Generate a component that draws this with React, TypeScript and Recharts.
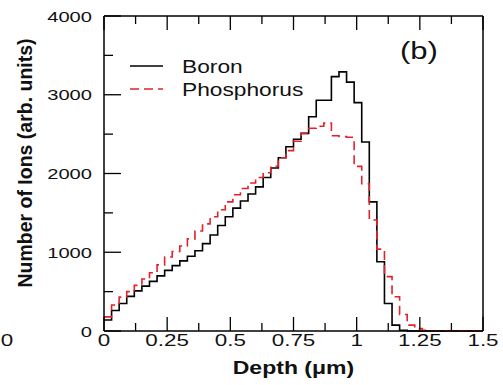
import { Line, LineChart, XAxis, YAxis } from "recharts";

// bin left edges (μm), last entry closes the final bin
const depths = [
  0, 0.03, 0.06, 0.09, 0.12, 0.15, 0.18, 0.21, 0.24, 0.27,
  0.3, 0.33, 0.36, 0.39, 0.42, 0.45, 0.48, 0.51, 0.54, 0.57,
  0.6, 0.63, 0.66, 0.69, 0.72, 0.75, 0.78, 0.81, 0.84, 0.87,
  0.9, 0.93, 0.96, 0.99, 1.02, 1.05, 1.08, 1.11, 1.14, 1.17,
  1.2, 1.23, 1.26, 1.29, 1.32, 1.35, 1.38, 1.41, 1.44, 1.47, 1.5,
];

const boron = [
  140, 260, 350, 440, 510, 570, 630, 700, 770, 830,
  890, 950, 1020, 1110, 1220, 1340, 1450, 1560, 1650, 1740,
  1830, 1950, 2070, 2200, 2340, 2435, 2510, 2720, 2930, 2930,
  3230, 3290, 3160, 2900, 2400, 1640, 880, 350, 75, 10,
  0, 0, 0, 0, 0, 0, 0, 0, 0, 0,
];

const phosphorus = [
  180, 330, 430, 500, 580, 660, 740, 840, 940, 1010,
  1080, 1170, 1270, 1360, 1450, 1540, 1640, 1730, 1810, 1880,
  1950, 2010, 2090, 2200, 2290, 2410, 2510, 2575, 2600, 2640,
  2480, 2470, 2460, 2090, 1870, 1410, 1040, 690, 435, 210,
  75, 30, 10, 4, 4, 4, 4, 4, 4, 4,
];

const xTicks = [0, 0.125, 0.25, 0.375, 0.5, 0.625, 0.75, 0.875, 1, 1.125, 1.25, 1.375, 1.5];
const xMajor = [0, 0.25, 0.5, 0.75, 1, 1.25, 1.5];
const xLabels = ["0", "0.25", "0.5", "0.75", "1", "1.25", "1.5"];
const yTicks = [0, 500, 1000, 1500, 2000, 2500, 3000, 3500, 4000];
const yMajor = [0, 1000, 2000, 3000, 4000];
const yLabels = ["0", "1000", "2000", "3000", "4000"];

const data = depths.map((d, i) => ({
  depth: d,
  boron: boron[Math.min(i, boron.length - 1)],
  phosphorus: phosphorus[Math.min(i, phosphorus.length - 1)],
}));

const FONT = "'Liberation Sans', Arial, Helvetica, sans-serif";
const RED = "#e3222b";

function BottomTick({ x, y, payload }: any) {
  const idx = xMajor.indexOf(payload.value);
  const major = idx >= 0;
  return (
    <g>
      <line x1={x} x2={x} y1={y} y2={y - (major ? 14 : 8)} stroke="#000" strokeWidth={1.3} />
      {major && (
        <text
          transform={`translate(${x},${y + 14.5}) scale(1.4,1)`}
          textAnchor="middle"
          fontSize={16}
          fontFamily={FONT}
          fill="#111"
        >
          {xLabels[idx]}
        </text>
      )}
    </g>
  );
}

function TopTick({ x, y, payload }: any) {
  const major = xMajor.includes(payload.value);
  return <line x1={x} x2={x} y1={y} y2={y + (major ? 14 : 8)} stroke="#000" strokeWidth={1.3} />;
}

function LeftTick({ x, y, payload }: any) {
  const idx = yMajor.indexOf(payload.value);
  const major = idx >= 0;
  return (
    <g>
      <line x1={x} x2={x + (major ? 17 : 9)} y1={y} y2={y} stroke="#000" strokeWidth={1.3} />
      {major && (
        <text
          transform={`translate(${x - 12},${y + 5.5}) scale(1.3,1)`}
          textAnchor="end"
          fontSize={15.5}
          fontFamily={FONT}
          fill="#111"
        >
          {yLabels[idx]}
        </text>
      )}
    </g>
  );
}

function RightTick({ x, y, payload }: any) {
  const major = yMajor.includes(payload.value);
  return <line x1={x} x2={x - (major ? 16 : 10)} y1={y} y2={y} stroke="#000" strokeWidth={1.3} />;
}

function LegendBox() {
  return (
    <svg width={200} height={50} style={{ position: "absolute", left: 130, top: 56, overflow: "visible" }}>
      <line x1={0} x2={33} y1={10} y2={10} stroke="#000" strokeWidth={1.6} />
      <text transform="translate(52,16.7) scale(1.3,1)" fontSize={17.5} fontFamily={FONT} fill="#111">
        Boron
      </text>
      <line x1={0} x2={33} y1={33} y2={33} stroke={RED} strokeWidth={1.6} strokeDasharray="9 5" />
      <text transform="translate(52,40) scale(1.3,1)" fontSize={17.5} fontFamily={FONT} fill="#111">
        Phosphorus
      </text>
    </svg>
  );
}

export default function App() {
  return (
    <div style={{ position: "absolute", left: 0, top: 0, width: 503, height: 385, background: "#fff" }}>
      <LineChart width={503} height={385} data={data} margin={{ top: 0, right: 0, bottom: 0, left: 0 }}>
        <XAxis
          dataKey="depth"
          type="number"
          domain={[0, 1.5]}
          ticks={xTicks}
          interval={0}
          height={54}
          tickSize={0}
          tickMargin={0}
          tickLine={false}
          axisLine={{ stroke: "#000", strokeWidth: 1.5 }}
          tick={<BottomTick />}
          label={{
            content: ({ viewBox }: any) => (
              <text
                transform={`translate(${viewBox.x + viewBox.width / 2},${viewBox.y + 43}) scale(1.28,1)`}
                textAnchor="middle"
                fontSize={18}
                fontWeight="bold"
                fontFamily={FONT}
                fill="#111"
              >
                Depth (μm)
              </text>
            ),
          }}
        />
        <XAxis
          xAxisId="top"
          orientation="top"
          dataKey="depth"
          type="number"
          domain={[0, 1.5]}
          ticks={xTicks}
          interval={0}
          height={16}
          tickSize={0}
          tickMargin={0}
          tickLine={false}
          axisLine={{ stroke: "#000", strokeWidth: 1.5 }}
          tick={<TopTick />}
        />
        <YAxis
          type="number"
          domain={[0, 4000]}
          ticks={yTicks}
          interval={0}
          width={104}
          tickSize={0}
          tickMargin={0}
          tickLine={false}
          axisLine={{ stroke: "#000", strokeWidth: 1.5 }}
          tick={<LeftTick />}
          label={{
            content: () => (
              <text
                transform="translate(32,163) rotate(-90)"
                textAnchor="middle"
                fontSize={19.5}
                fontWeight="bold"
                fontFamily={FONT}
                fill="#111"
              >
                Number of Ions (arb. units)
              </text>
            ),
          }}
        />
        <YAxis
          yAxisId="right"
          orientation="right"
          type="number"
          domain={[0, 4000]}
          ticks={yTicks}
          interval={0}
          width={20}
          tickSize={0}
          tickMargin={0}
          tickLine={false}
          axisLine={{ stroke: "#000", strokeWidth: 1.5 }}
          tick={<RightTick />}
        />
        <Line
          type="stepAfter"
          dataKey="boron"
          stroke="#000"
          strokeWidth={1.6}
          dot={false}
          isAnimationActive={false}
        />
        <Line
          type="stepAfter"
          dataKey="phosphorus"
          stroke={RED}
          strokeWidth={1.6}
          strokeDasharray="9 5"
          dot={false}
          isAnimationActive={false}
        />
      </LineChart>
      <LegendBox />
      <div
        style={{
          position: "absolute",
          left: 0,
          top: 332,
          width: 14,
          textAlign: "center",
          fontFamily: FONT,
          fontSize: 16,
          color: "#111",
          transform: "scaleX(1.4)",
        }}
      >
        0
      </div>
      <div
        style={{
          position: "absolute",
          left: 400,
          top: 38,
          fontFamily: FONT,
          fontSize: 23,
          color: "#111",
          transformOrigin: "left top",
          transform: "scaleX(1.35)",
        }}
      >
        (b)
      </div>
    </div>
  );
}
